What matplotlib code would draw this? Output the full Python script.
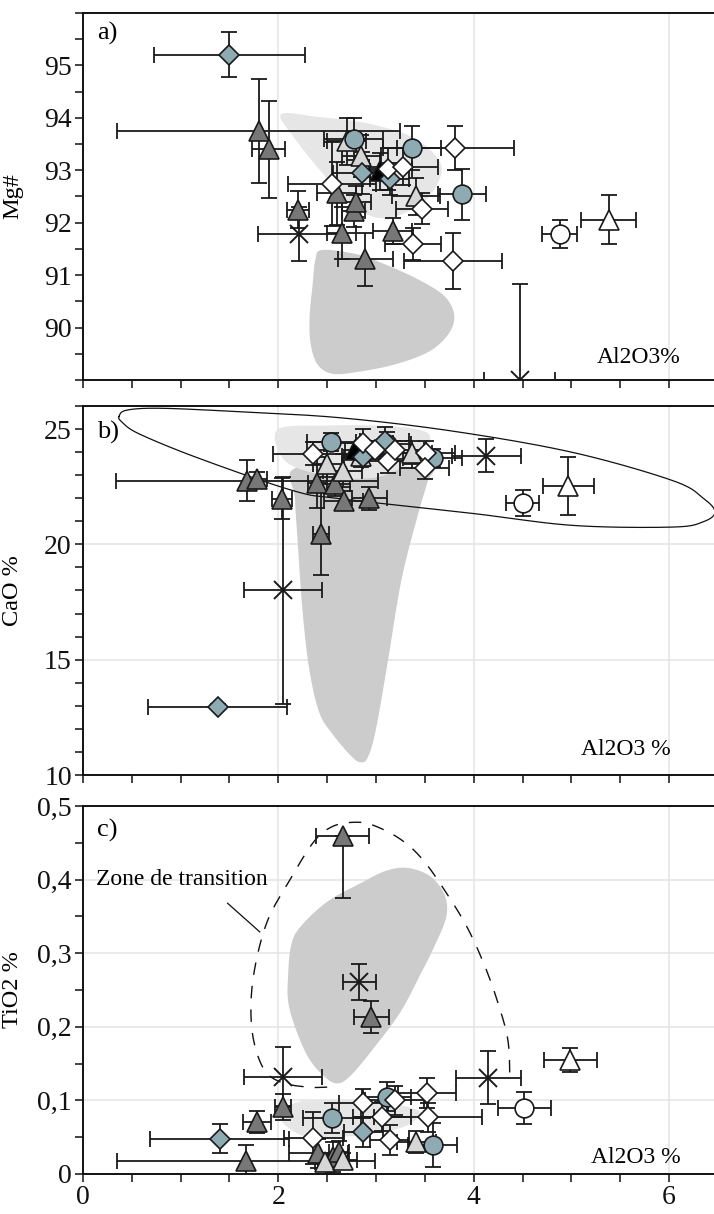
import numpy as np
import matplotlib
matplotlib.use("Agg")
import matplotlib.pyplot as plt
from matplotlib.ticker import MultipleLocator, FuncFormatter

plt.rcParams['font.family'] = ['Liberation Serif', 'DejaVu Serif']

# ---- data: (Al2O3, value, xerr, yerr) ; an error given as [low, high] is asymmetric
# panel a) Mg#
A_DARK_TRI = [(1.80, 93.75, 1.45, 1.0), (1.90, 93.40, 0.17, 0.93), (2.20, 92.25, 0.11, 0.35),
              (2.60, 92.56, 0.20, 0.60), (2.65, 91.80, 0.15, 0.50), (2.77, 92.22, 0.12, 0.30),
              (2.80, 92.40, 0.15, 0.30), (2.89, 91.30, 0.28, 0.50), (3.17, 91.84, 0.20, 0.25)]
A_LIGHT_TRI = [(2.70, 93.55, 0.20, 0.45), (2.85, 93.27, 0.20, 0.40), (3.41, 92.50, 0.25, 0.35)]
A_WHITE_TRI = [(5.38, 92.06, 0.28, 0.47)]
A_BLACK_TRI = [(3.04, 92.98, 0.10, 0.35)]
A_BLUE_CIRC = [(2.77, 93.60, 0.30, 0.40), (3.37, 93.42, 0.30, 0.42), (3.88, 92.54, 0.25, 0.48)]
A_WHITE_CIRC = [(4.88, 91.78, 0.18, 0.27)]
A_BLUE_DIAM = [(1.50, 95.20, 0.77, 0.43), (2.86, 92.94, 0.30, 0.40), (3.14, 92.83, 0.20, 0.30)]
A_WHITE_DIAM = [(2.55, 92.73, 0.45, 0.80), (3.12, 93.02, 0.25, 0.40), (3.28, 93.07, 0.35, 0.35),
                (3.81, 93.42, 0.60, 0.42), (3.47, 92.27, 0.27, 0.30), (3.38, 91.59, 0.29, 0.30),
                (3.79, 91.27, 0.50, 0.53)]
A_CROSS = [(2.21, 91.78, 0.42, 0.52), (4.47, 89.00, 0.36, [0.0, 1.83])]

# panel b) CaO
B_DARK_TRI = [(1.68, 22.76, 1.34, 0.88), (1.78, 22.85, 0.10, 0.30), (2.04, 21.98, 0.10, 0.90),
              (2.44, 20.47, 0.08, 1.80), (2.40, 22.67, 0.10, 1.10), (2.58, 22.60, 0.15, 0.50),
              (2.67, 21.90, 0.20, 0.40), (2.93, 22.00, 0.18, 0.50)]
B_LIGHT_TRI = [(2.50, 23.50, 0.15, 0.60), (2.66, 23.20, 0.20, 0.70), (2.85, 23.85, 0.20, 0.50),
               (3.37, 23.97, 0.20, 0.50)]
B_WHITE_TRI = [(4.97, 22.54, 0.26, 1.25)]
B_BLACK_TRI = [(2.78, 24.10, 0.10, 0.30)]
B_BLUE_CIRC = [(2.54, 24.44, 0.25, 0.40), (3.11, 24.35, 0.25, 0.50), (3.58, 23.75, 0.30, 0.40)]
B_WHITE_CIRC = [(4.50, 21.80, 0.17, 0.55)]
B_BLUE_DIAM = [(1.38, 12.97, 0.71, 0.10), (2.87, 23.80, 0.20, 0.40), (3.09, 24.48, 0.25, 0.60)]
B_WHITE_DIAM = [(2.36, 23.92, 0.41, 0.50), (2.87, 24.40, 0.30, 0.60), (2.99, 24.10, 0.20, 0.40),
                (3.12, 23.60, 0.25, 0.50), (3.19, 24.10, 0.30, 0.40), (3.51, 23.97, 0.30, 0.50),
                (3.50, 23.32, 0.25, 0.50)]
B_CROSS = [(2.05, 18.00, 0.40, 4.90), (4.13, 23.85, 0.35, 0.73)]

# panel c) TiO2
C_DARK_TRI = [(2.66, 0.460, 0.27, [0.085, 0.0]), (2.95, 0.213, 0.18, 0.022), (2.05, 0.091, 0.08, 0.018),
              (1.78, 0.071, 0.14, 0.015), (1.67, 0.017, 1.32, 0.023), (2.41, 0.028, 0.30, 0.020),
              (2.56, 0.023, 0.15, 0.020), (2.62, 0.030, 0.10, 0.015)]
C_LIGHT_TRI = [(2.48, 0.016, 0.10, 0.010), (2.66, 0.019, 0.15, 0.010), (3.41, 0.043, 0.20, 0.015)]
C_WHITE_TRI = [(4.99, 0.155, 0.27, 0.016)]
C_BLUE_CIRC = [(2.55, 0.076, 0.30, 0.020), (3.11, 0.105, 0.25, 0.020), (3.58, 0.039, 0.25, 0.030)]
C_WHITE_CIRC = [(4.52, 0.090, 0.27, 0.022)]
C_BLUE_DIAM = [(1.40, 0.048, 0.71, 0.020), (2.87, 0.057, 0.20, 0.020)]
C_WHITE_DIAM = [(2.36, 0.049, 0.30, 0.035), (2.87, 0.096, 0.25, 0.020), (3.19, 0.100, 0.30, 0.020),
                (3.52, 0.110, 0.30, 0.020), (3.06, 0.078, 0.30, 0.020), (3.53, 0.077, 0.55, 0.020),
                (3.14, 0.046, 0.20, 0.020)]
C_CROSS = [(2.05, 0.132, 0.40, 0.040), (2.83, 0.261, 0.17, 0.024), (4.15, 0.131, 0.33, 0.036)]

# outlines of the reference fields (Al2O3, value)
A_FIELD_LIGHT = [(2.03, 94.07), (2.4, 94.02), (2.9, 93.9), (3.35, 93.65), (3.6, 93.3), (3.67, 92.95),
                 (3.52, 92.45), (3.25, 92.15), (3.0, 92.1), (2.75, 92.35), (2.45, 92.95), (2.15, 93.65)]
A_FIELD_DARK = [(2.45, 91.48), (2.8, 91.4), (3.1, 91.2), (3.45, 90.9), (3.7, 90.6), (3.8, 90.25),
                (3.75, 89.9), (3.55, 89.55), (3.2, 89.3), (2.8, 89.15), (2.55, 89.12), (2.4, 89.3),
                (2.33, 89.7), (2.32, 90.2), (2.35, 90.8), (2.38, 91.3)]
B_FIELD_LIGHT = [(2.0, 25.0), (2.5, 25.15), (3.0, 25.15), (3.4, 25.0), (3.55, 24.7), (3.5, 24.0),
                 (3.3, 23.4), (3.0, 22.9), (2.6, 22.9), (2.2, 23.3), (2.02, 23.9)]
B_FIELD_DARK = [(2.17, 23.3), (2.9, 23.35), (3.55, 23.3), (3.53, 22.75), (3.43, 21.3), (3.26, 18.45),
                (3.12, 14.9), (3.0, 12.0), (2.92, 10.8), (2.85, 10.55), (2.75, 10.8), (2.55, 11.8),
                (2.42, 12.7), (2.32, 14.5), (2.25, 17.0), (2.2, 20.0), (2.17, 22.0)]
B_ENVELOPE = [(0.37, 25.55), (0.45, 25.82), (0.8, 25.9), (1.6, 25.75), (2.63, 25.49), (3.8, 24.9),
              (5.02, 23.98), (6.04, 22.76), (6.35, 22.0), (6.47, 21.4), (6.35, 20.98), (6.04, 20.75),
              (5.02, 20.82), (3.99, 21.34), (2.63, 21.98), (2.15, 22.33), (1.2, 23.71), (0.58, 24.78),
              (0.40, 25.3)]
C_FIELD_DARK = [(2.1, 0.27), (2.13, 0.31), (2.22, 0.335), (2.5, 0.37), (2.84, 0.395), (3.1, 0.412),
                (3.32, 0.416), (3.55, 0.405), (3.7, 0.38), (3.72, 0.35), (3.6, 0.31), (3.45, 0.27),
                (3.25, 0.22), (3.0, 0.175), (2.75, 0.135), (2.6, 0.123), (2.45, 0.135), (2.3, 0.16),
                (2.17, 0.2), (2.1, 0.235)]
C_FIELD_LIGHT = [(2.02, 0.078), (2.1, 0.092), (2.3, 0.1), (2.7, 0.1), (3.1, 0.097), (3.4, 0.088),
                 (3.45, 0.08), (3.3, 0.065), (3.0, 0.055), (2.6, 0.05), (2.3, 0.05), (2.1, 0.063)]
C_TRANSITION = [(2.50, 0.118), (2.30, 0.118), (2.02, 0.125), (1.84, 0.145), (1.73, 0.196), (1.74, 0.264),
                (1.88, 0.341), (2.12, 0.40), (2.36, 0.451), (2.55, 0.472), (2.77, 0.478), (2.97, 0.474),
                (3.25, 0.455), (3.48, 0.427), (3.72, 0.382), (3.93, 0.336), (4.10, 0.287), (4.24, 0.236),
                (4.35, 0.182), (4.37, 0.127)]

STYLES = {
    'dark_tri': dict(marker='^', mfc='#777777', ms=15),
    'light_tri': dict(marker='^', mfc='#d6d6d6', ms=15),
    'white_tri': dict(marker='^', mfc='white', ms=15),
    'black_tri': dict(marker='^', mfc='black', ms=15),
    'cross': dict(marker='x', mfc='none', ms=13),
    'blue_circ': dict(marker='o', mfc='#8eaab3', ms=13.5),
    'white_circ': dict(marker='o', mfc='white', ms=13.5),
    'blue_diam': dict(marker='D', mfc='#8eaab3', ms=10.5),
    'white_diam': dict(marker='D', mfc='white', ms=10.5),
}

TICK_FS = 20
TEXT_FS = 17


def smooth(pts, closed=True, n=16):
    # Catmull-Rom curve through the outline vertices
    p = np.asarray(pts, float)
    if closed:
        p = np.vstack([p[-1], p, p[0], p[1]])
    else:
        p = np.vstack([p[0], p, p[-1]])
    t = np.linspace(0, 1, n, endpoint=False)[:, None]
    out = []
    for i in range(1, len(p) - 2):
        p0, p1, p2, p3 = p[i - 1], p[i], p[i + 1], p[i + 2]
        out.append(0.5 * (2 * p1 + (-p0 + p2) * t + (2 * p0 - 5 * p1 + 4 * p2 - p3) * t ** 2
                          + (-p0 + 3 * p1 - 3 * p2 + p3) * t ** 3))
    out.append(p[-2][None, :])
    return np.vstack(out)


def split_err(vals):
    lo = [v[0] if isinstance(v, list) else v for v in vals]
    hi = [v[1] if isinstance(v, list) else v for v in vals]
    return [lo, hi]


def draw_points(ax, groups):
    for key, rows in groups:
        x = [r[0] for r in rows]
        y = [r[1] for r in rows]
        xe = split_err([r[2] for r in rows])
        ye = split_err([r[3] for r in rows])
        st = STYLES[key]
        ax.errorbar(x, y, xerr=xe, yerr=ye, fmt='none', ecolor='#1a1a1a', elinewidth=1.3,
                    capsize=6, capthick=1.3, zorder=3)
        ax.plot(x, y, linestyle='none', marker=st['marker'], ms=st['ms'], mfc=st['mfc'],
                mec='#1a1a1a', mew=1.2 if key != 'cross' else 1.4, zorder=4)


def style_axes(ax, ymin, ymax, ymaj, ymin_step, hgrid):
    ax.set_xlim(0, 6.46)
    ax.set_ylim(ymin, ymax)
    ax.xaxis.set_major_locator(MultipleLocator(2))
    ax.xaxis.set_minor_locator(MultipleLocator(0.5))
    ax.yaxis.set_major_locator(MultipleLocator(ymaj))
    ax.yaxis.set_minor_locator(MultipleLocator(ymin_step))
    ax.tick_params(which='both', direction='out', length=6, width=1.1, labelsize=TICK_FS,
                   colors='#111111', pad=2)
    for x in (2, 4, 6):
        ax.axvline(x, color='#e6e6e6', lw=1.2, zorder=0)
    for y in hgrid:
        ax.axhline(y, color='#e6e6e6', lw=1.2, zorder=0)
    ax.spines['right'].set_visible(False)
    for s in ('left', 'bottom', 'top'):
        ax.spines[s].set_linewidth(1.4)
        ax.spines[s].set_color('#111111')


fig = plt.figure(figsize=(7.14, 12.14), dpi=100)
ax_a = fig.add_axes([0.1162, 0.687, 0.8838, 0.3023])
ax_b = fig.add_axes([0.1162, 0.3616, 0.8838, 0.304])
ax_c = fig.add_axes([0.1162, 0.033, 0.8838, 0.303])

# a)
style_axes(ax_a, 89.0, 96.0, 1, 0.5, [])
for pts, col in ((A_FIELD_LIGHT, '#e6e6e6'), (A_FIELD_DARK, '#cccccc')):
    s = smooth(pts)
    ax_a.fill(s[:, 0], s[:, 1], color=col, lw=0, zorder=1)
draw_points(ax_a, [('dark_tri', A_DARK_TRI), ('light_tri', A_LIGHT_TRI), ('white_tri', A_WHITE_TRI),
                   ('black_tri', A_BLACK_TRI), ('cross', A_CROSS), ('blue_circ', A_BLUE_CIRC),
                   ('white_circ', A_WHITE_CIRC), ('blue_diam', A_BLUE_DIAM), ('white_diam', A_WHITE_DIAM)])
ax_a.set_yticks([90, 91, 92, 93, 94, 95])
ax_a.set_ylabel('Mg#', fontsize=TEXT_FS + 0.5)
ax_a.text(0.022, 0.945, 'a)', transform=ax_a.transAxes, fontsize=19, va='center')
ax_a.text(0.88, 0.06, 'Al2O3%', transform=ax_a.transAxes, fontsize=TEXT_FS, ha='center', va='center')
ax_a.tick_params(axis='x', labelbottom=False)

# b)
style_axes(ax_b, 10, 26, 5, 1, [15, 20])
for pts, col in ((B_FIELD_DARK, '#cccccc'), (B_FIELD_LIGHT, '#e6e6e6')):
    s = smooth(pts)
    ax_b.fill(s[:, 0], s[:, 1], color=col, lw=0, zorder=1)
env = smooth(B_ENVELOPE)
ax_b.plot(env[:, 0], env[:, 1], color='#111111', lw=0.9, zorder=2)
draw_points(ax_b, [('dark_tri', B_DARK_TRI), ('light_tri', B_LIGHT_TRI), ('white_tri', B_WHITE_TRI),
                   ('black_tri', B_BLACK_TRI), ('cross', B_CROSS), ('blue_circ', B_BLUE_CIRC),
                   ('white_circ', B_WHITE_CIRC), ('blue_diam', B_BLUE_DIAM), ('white_diam', B_WHITE_DIAM)])
ax_b.set_ylabel('CaO %', fontsize=TEXT_FS + 0.5)
ax_b.text(0.022, 0.927, 'b)', transform=ax_b.transAxes, fontsize=19, va='center')
ax_b.text(0.86, 0.068, 'Al2O3 %', transform=ax_b.transAxes, fontsize=TEXT_FS, ha='center', va='center')
ax_b.tick_params(axis='x', labelbottom=False)

# c)
style_axes(ax_c, 0, 0.5, 0.1, 0.05, [0.1, 0.2, 0.3, 0.4])
for pts, col in ((C_FIELD_DARK, '#cccccc'), (C_FIELD_LIGHT, '#e6e6e6')):
    s = smooth(pts)
    ax_c.fill(s[:, 0], s[:, 1], color=col, lw=0, zorder=1)
tz = smooth(C_TRANSITION, closed=False)
ax_c.plot(tz[:, 0], tz[:, 1], color='#111111', lw=1.0, linestyle=(0, (9, 8)), zorder=2)
ax_c.plot([1.48, 1.81], [0.368, 0.329], color='#111111', lw=0.9, zorder=2)
ax_c.text(0.13, 0.40, 'Zone de transition', fontsize=TEXT_FS, va='center', ha='left')
draw_points(ax_c, [('dark_tri', C_DARK_TRI), ('light_tri', C_LIGHT_TRI), ('white_tri', C_WHITE_TRI),
                   ('cross', C_CROSS), ('blue_circ', C_BLUE_CIRC), ('white_circ', C_WHITE_CIRC),
                   ('blue_diam', C_BLUE_DIAM), ('white_diam', C_WHITE_DIAM)])
ax_c.yaxis.set_major_formatter(FuncFormatter(lambda v, p: '0' if abs(v) < 1e-9 else f'{v:.1f}'.replace('.', ',')))
ax_c.set_ylabel('TiO2 %', fontsize=TEXT_FS + 0.5)
ax_c.text(0.022, 0.935, 'c)', transform=ax_c.transAxes, fontsize=19, va='center')
ax_c.text(0.876, 0.046, 'Al2O3 %', transform=ax_c.transAxes, fontsize=TEXT_FS, ha='center', va='center')

for ax in (ax_a, ax_b, ax_c):
    ax.yaxis.set_label_coords(-0.095, 0.5)

fig.savefig('out.png', dpi=100)
